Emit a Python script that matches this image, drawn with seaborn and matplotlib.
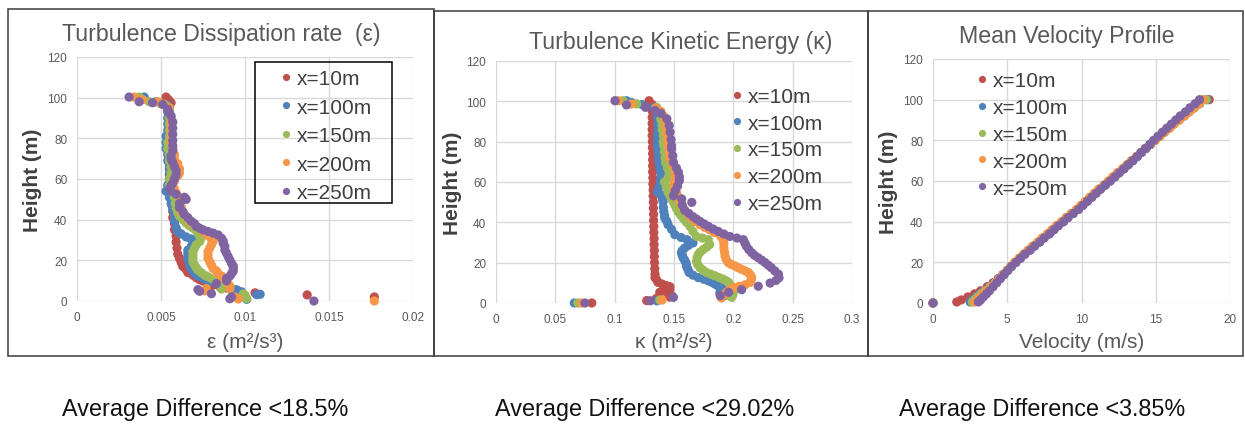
import pandas as pd
import matplotlib
matplotlib.use("Agg")
import matplotlib.pyplot as plt
import seaborn as sns
from matplotlib.patches import Rectangle

series_names = ["x=10m", "x=100m", "x=150m", "x=200m", "x=250m"]
colors = ["#C0504D", "#4F81BD", "#9BBB59", "#F79646", "#8064A2"]

# ---- Turbulence dissipation rate (eps, m2/s3) vs height (m)
eps10_h = [100.3, 99, 97.5, 96, 94, 92, 89, 86, 83, 80, 77, 74, 71, 68, 65, 62, 59, 56, 53, 50,
           47, 44, 41, 38, 35, 32, 29, 26, 23, 21, 19, 17, 15.5, 14, 12.7, 11.5, 10.5, 9.8, 8.8, 7.8,
           7, 6.4, 5.8, 5.3, 4.5, 4, 3, 2]
eps10_v = [0.0053, 0.00545, 0.0056, 0.0055, 0.0054, 0.00545, 0.0055, 0.0055, 0.0055, 0.0054,
           0.0054, 0.0054, 0.0055, 0.0055, 0.0055, 0.0055, 0.0055, 0.0055, 0.0056, 0.0056,
           0.00565, 0.0057, 0.0057, 0.0058, 0.0058, 0.0059, 0.0059, 0.00595, 0.0060, 0.0061,
           0.0062, 0.0063, 0.0065, 0.0066, 0.0069, 0.0071, 0.0073, 0.0075, 0.0078, 0.0081,
           0.0085, 0.0089, 0.0092, 0.0094, 0.0097, 0.0106, 0.0137, 0.0177]

eps100_h = [100.3, 98, 96.5, 95, 93, 90, 87, 84, 81, 78, 75, 72, 69, 66, 63, 60, 57, 54, 51, 48,
            45, 42, 39, 36, 34, 33, 31.5, 30.5, 29.3, 28, 26.8, 25, 23.5, 22, 20.5, 19, 17.5, 16,
            14.7, 13.5, 12.3, 11.2, 10.2, 9.5, 8.9, 8.2, 7.6, 6.8, 6.1, 5.5, 4.5, 3.3, 3.1, 0.8]
eps100_v = [0.0040, 0.0047, 0.0054, 0.0055, 0.0054, 0.0054, 0.0054, 0.0054, 0.0053, 0.0053,
            0.0053, 0.0054, 0.0054, 0.0055, 0.0055, 0.0055, 0.0054, 0.0053, 0.0055, 0.0056,
            0.0057, 0.0058, 0.0058, 0.0059, 0.0060, 0.0062, 0.0065, 0.0068, 0.0072, 0.0070,
            0.0068, 0.0066, 0.0066, 0.0066, 0.0066, 0.0067, 0.0067, 0.0068, 0.0069, 0.0070,
            0.0072, 0.0075, 0.0077, 0.0080, 0.0083, 0.0086, 0.0088, 0.0090, 0.0092, 0.0095,
            0.0098, 0.0109, 0.0107, 0.0101]

eps150_h = [100.3, 98, 97, 95.5, 93, 90, 87, 84, 81, 78, 75, 72, 69, 66, 63, 60, 57, 54, 51, 48,
            45.8, 43.5, 41.7, 40, 38.3, 37, 35.9, 34.6, 33.4, 32, 30.9, 29.2, 27.6, 26, 24.3,
            22.6, 21, 19.3, 17.7, 16.4, 15.2, 13.9, 12.7, 11.9, 11.1, 10.2, 9.4, 8.2, 7, 5.9,
            3.5, 2.8, 1.2]
eps150_v = [0.0037, 0.0043, 0.0050, 0.0054, 0.0055, 0.0055, 0.0055, 0.0055, 0.0055, 0.0054,
            0.0054, 0.0055, 0.0055, 0.0056, 0.0056, 0.0055, 0.0055, 0.0056, 0.0058, 0.00585,
            0.0059, 0.0060, 0.0061, 0.0063, 0.0065, 0.0067, 0.0069, 0.0071, 0.0072, 0.0073,
            0.0074, 0.0073, 0.0071, 0.0070, 0.0069, 0.0069, 0.0069, 0.0069, 0.0070, 0.0071,
            0.0072, 0.0074, 0.0076, 0.0078, 0.0080, 0.0082, 0.0084, 0.0085, 0.0086, 0.0086,
            0.0099, 0.0100, 0.0101]

eps200_h = [100.3, 99, 98, 96.8, 95, 93, 90, 87, 84, 81, 78, 75, 72, 69.8, 67.5, 65, 63, 61.6,
            59, 56.7, 55, 53.2, 51, 49, 46.5, 44, 41.5, 39.2, 38, 36.7, 35.5, 34.2, 33, 31.7,
            30.5, 29.3, 27.6, 26, 24.3, 22.6, 21, 19.3, 17.7, 16, 14.8, 13.5, 12.3, 11.1, 9.8,
            8.6, 7.3, 6.1, 6.1, 5, 2, 1, 0]
eps200_v = [0.0034, 0.0039, 0.0048, 0.0052, 0.0055, 0.0055, 0.0056, 0.0056, 0.0056, 0.0056,
            0.0056, 0.0057, 0.0058, 0.0058, 0.0060, 0.0061, 0.0061, 0.0060, 0.0058, 0.0057,
            0.0058, 0.0059, 0.0061, 0.0062, 0.0062, 0.0062, 0.0065, 0.0067, 0.0069, 0.0071,
            0.0073, 0.0075, 0.0077, 0.0079, 0.0080, 0.0081, 0.0080, 0.0079, 0.0078, 0.0078,
            0.0078, 0.0079, 0.0080, 0.0081, 0.0083, 0.0084, 0.0086, 0.0087, 0.0089, 0.0090,
            0.0091, 0.0091, 0.0077, 0.0076, 0.0094, 0.0096, 0.0177]

eps250_h = [100.3, 98, 97.5, 96.7, 94.3, 92.5, 91, 88, 85, 82, 79, 76.3, 74, 71.4, 69.8, 68.2,
            66, 64.1, 62, 60, 58, 56.7, 55, 54, 52.5, 51, 50, 48, 46, 44, 42.5, 41, 39.2, 38,
            36.7, 35.8, 35, 34.2, 33.4, 32.5, 30.9, 29.5, 28.4, 26.8, 25.1, 23.5, 21.8, 20.2,
            18.5, 17.2, 16, 14.7, 13.5, 12.3, 11.1, 9.9, 8.6, 5.6, 4.8, 3.6, 2, 1.1, 0]
eps250_v = [0.0031, 0.0037, 0.0045, 0.0051, 0.0054, 0.0055, 0.0056, 0.0057, 0.0057, 0.0057,
            0.0057, 0.0057, 0.0057, 0.0056, 0.0056, 0.0057, 0.0058, 0.0059, 0.0059, 0.0058,
            0.0057, 0.0056, 0.0055, 0.0056, 0.0059, 0.0064, 0.0065, 0.0061, 0.0061, 0.0063,
            0.0064, 0.0066, 0.0068, 0.0070, 0.0071, 0.0073, 0.0075, 0.0078, 0.0081, 0.0084,
            0.0086, 0.0087, 0.0087, 0.0088, 0.0088, 0.0089, 0.0090, 0.0091, 0.0092, 0.0093,
            0.0093, 0.0093, 0.0092, 0.0091, 0.0089, 0.0089, 0.0083, 0.0072, 0.0073, 0.0080,
            0.0092, 0.0091, 0.0141]

# ---- Turbulence kinetic energy (k, m2/s2) vs height (m)
tke10_h = [100.3, 98.4, 97, 95, 92, 89, 86, 83, 80, 77, 74, 71, 68, 65, 62, 59, 56, 53, 50, 47,
           44, 41, 38, 35, 32, 29, 26, 23, 20, 17, 14.3, 12.6, 11.4, 10.2, 9.4, 8.6, 8.1, 6.9, 6,
           5.3, 4.5, 3.7, 2.9, 2.2, 1.2, 0]
tke10_v = [0.129, 0.1316, 0.133, 0.1318, 0.1316, 0.1316, 0.1316, 0.1316, 0.1318, 0.1318, 0.132,
           0.132, 0.132, 0.132, 0.1322, 0.1322, 0.1324, 0.1324, 0.1326, 0.1326, 0.1328, 0.1328,
           0.133, 0.133, 0.1332, 0.1332, 0.1334, 0.1334, 0.1336, 0.1338, 0.134, 0.134, 0.1355,
           0.1366, 0.140, 0.1437, 0.1465, 0.1465, 0.141, 0.138, 0.1453, 0.148, 0.1465, 0.135,
           0.127, 0.0807]

tke100_h = [100.3, 99.5, 98.4, 97, 95, 92, 89, 86, 83, 80, 77.9, 75, 72, 69.7, 67, 64.7, 62,
            59.8, 57, 54.9, 53.5, 52, 50.2, 47.5, 45.3, 43.5, 42, 40.5, 38.8, 36.5, 33.9, 32.5,
            31.4, 29.8, 28.5, 27.3, 26, 24.9, 23.6, 22.4, 21.2, 20, 18.7, 17.5, 16.3, 15.1, 13.8,
            12.6, 11.8, 11, 10.2, 9.4, 8.5, 7.7, 6.5, 5.3, 4.9, 3.7, 1.1, 0]
tke100_v = [0.110, 0.114, 0.123, 0.133, 0.136, 0.136, 0.1364, 0.1364, 0.136, 0.136, 0.136,
            0.1365, 0.137, 0.1373, 0.138, 0.139, 0.139, 0.1385, 0.137, 0.136, 0.1394, 0.140,
            0.1408, 0.141, 0.1414, 0.142, 0.1423, 0.144, 0.145, 0.148, 0.1507, 0.156, 0.161,
            0.166, 0.162, 0.159, 0.157, 0.1563, 0.157, 0.1577, 0.159, 0.160, 0.1605, 0.161,
            0.162, 0.1628, 0.166, 0.1704, 0.175, 0.1789, 0.182, 0.1845, 0.187, 0.190, 0.1905,
            0.1915, 0.1886, 0.193, 0.1355, 0.066]

tke150_h = [100.3, 98.7, 97, 94.3, 91, 88, 86, 83, 80, 77.9, 75, 72, 69.7, 67, 64.7, 62, 60,
            57.5, 55, 53.4, 51.8, 50.2, 48.6, 47, 45.3, 43.6, 42, 40, 38, 35.5, 33, 32.2, 31.4,
            29, 27.7, 26.5, 25.2, 24, 22.4, 20.8, 19.1, 17.5, 16.3, 15.1, 14.3, 13.5, 12.6, 11.8,
            11, 10.2, 9, 7.7, 6.5, 5.3, 4, 2.8, 1.5, 0]
tke150_v = [0.107, 0.1186, 0.1355, 0.1387, 0.139, 0.140, 0.140, 0.141, 0.141, 0.1415, 0.142,
            0.1425, 0.143, 0.1445, 0.1458, 0.145, 0.142, 0.1435, 0.145, 0.1465, 0.148, 0.1493,
            0.1507, 0.152, 0.1535, 0.1555, 0.1577, 0.1605, 0.1634, 0.166, 0.169, 0.174, 0.1789,
            0.180, 0.1775, 0.1747, 0.172, 0.1704, 0.1695, 0.169, 0.170, 0.1718, 0.1745, 0.1775,
            0.181, 0.1845, 0.188, 0.1915, 0.194, 0.196, 0.1975, 0.1986, 0.1995, 0.200, 0.1995,
            0.1986, 0.138, 0.069]

tke200_h = [100.3, 98.7, 96.7, 95, 92.6, 90, 87, 84, 81, 78, 75, 72.5, 71.3, 68.5, 66.4, 64,
            61.5, 59, 56.5, 55, 53, 51.6, 50, 48, 46, 44, 42, 40.4, 38.8, 37.5, 36.3, 35, 33.9,
            32.6, 31.4, 29.5, 27.3, 25.3, 23.3, 21.6, 20, 19.2, 18.4, 17.5, 16.7, 15.9, 15.1,
            13.8, 12.6, 11.4, 10.2, 9, 8.3, 7.7, 6.5, 5.3, 4, 2.5, 1.5, 0]
tke200_v = [0.103, 0.1144, 0.1345, 0.139, 0.1415, 0.1425, 0.1435, 0.1438, 0.1445, 0.145, 0.1458,
            0.1465, 0.147, 0.149, 0.151, 0.151, 0.151, 0.150, 0.150, 0.152, 0.153, 0.154, 0.155,
            0.157, 0.159, 0.162, 0.1648, 0.168, 0.172, 0.176, 0.180, 0.184, 0.1887, 0.190,
            0.1915, 0.192, 0.192, 0.1925, 0.193, 0.194, 0.1958, 0.198, 0.2014, 0.204, 0.207,
            0.210, 0.2127, 0.2145, 0.2155, 0.215, 0.214, 0.2099, 0.205, 0.200, 0.197, 0.1944,
            0.192, 0.190, 0.140, 0.072]

tke250_h = [100.3, 98.2, 97, 95.5, 94, 91.3, 88, 84.7, 81, 78, 76.4, 73, 69.8, 67, 64.8, 62.5,
            60.7, 58, 55.7, 53.2, 51.6, 49.9, 48.5, 46, 44.4, 42.8, 41.6, 40.4, 39.2, 38, 36.7,
            35.5, 34.2, 33, 32.2, 31.4, 29.8, 28.2, 26.5, 24.9, 23.6, 22.4, 21.2, 20, 18.7, 17.5,
            15.9, 14.3, 12.5, 11.2, 9.9, 8.3, 6.6, 5.3, 3.6, 2.8, 1.1, 0]
tke250_v = [0.1003, 0.110, 0.126, 0.134, 0.139, 0.144, 0.146, 0.1467, 0.1475, 0.148, 0.148,
            0.149, 0.1495, 0.152, 0.1537, 0.1545, 0.1545, 0.153, 0.151, 0.1495, 0.1565, 0.165,
            0.157, 0.159, 0.1625, 0.166, 0.169, 0.172, 0.1755, 0.179, 0.183, 0.1873, 0.192,
            0.197, 0.203, 0.2084, 0.2097, 0.211, 0.213, 0.2155, 0.218, 0.221, 0.224, 0.2268,
            0.2295, 0.232, 0.235, 0.238, 0.2385, 0.236, 0.231, 0.221, 0.207, 0.196, 0.189,
            0.1495, 0.130, 0.075]

# ---- Mean velocity (m/s), all series share the same heights
vel_h = [0, 0.5, 1.5, 3, 4.5, 6, 8, 10, 12, 14, 16, 18, 20, 22, 24, 26, 28, 30, 32, 34, 36, 38,
         40, 42, 44, 46, 48, 50, 52, 54, 56, 58, 60, 62, 64, 66, 68, 70, 72, 74, 76, 78, 80, 82,
         84, 86, 88, 90, 92, 94, 96, 98, 100]
vel10 = [0, 1.6, 1.9, 2.35, 2.8, 3.2, 3.65, 4.05, 4.4, 4.7, 5.0, 5.25, 5.55, 5.85, 6.15, 6.5,
         6.8, 7.15, 7.45, 7.8, 8.1, 8.4, 8.75, 9.05, 9.4, 9.75, 10.05, 10.35, 10.65, 10.95, 11.25,
         11.6, 11.9, 12.2, 12.5, 12.85, 13.15, 13.45, 13.75, 14.05, 14.35, 14.65, 14.95, 15.25,
         15.55, 15.85, 16.2, 16.5, 16.85, 17.2, 17.55, 17.95, 18.6]
vel100 = [0, 2.5, 2.65, 2.9, 3.15, 3.45, 3.8, 4.15, 4.45, 4.75, 5.0, 5.25, 5.55, 5.85, 6.15, 6.5,
          6.8, 7.15, 7.45, 7.8, 8.1, 8.4, 8.75, 9.05, 9.4, 9.75, 10.05, 10.35, 10.65, 10.95,
          11.25, 11.6, 11.9, 12.2, 12.5, 12.85, 13.15, 13.45, 13.75, 14.05, 14.35, 14.65, 14.95,
          15.25, 15.55, 15.9, 16.2, 16.55, 16.9, 17.25, 17.6, 17.95, 18.45]
vel150 = [0, 2.65, 2.8, 3.0, 3.25, 3.5, 3.85, 4.2, 4.5, 4.75, 5.0, 5.25, 5.5, 5.8, 6.1, 6.45,
          6.75, 7.1, 7.4, 7.75, 8.05, 8.35, 8.7, 9.0, 9.35, 9.7, 10.0, 10.3, 10.6, 10.9, 11.2,
          11.55, 11.85, 12.15, 12.45, 12.8, 13.1, 13.4, 13.7, 14.0, 14.3, 14.6, 14.95, 15.25,
          15.55, 15.9, 16.2, 16.55, 16.9, 17.25, 17.6, 17.95, 18.4]
vel200 = [0, 2.8, 2.95, 3.15, 3.35, 3.6, 3.9, 4.2, 4.5, 4.75, 5.0, 5.25, 5.5, 5.8, 6.1, 6.4,
          6.7, 7.05, 7.35, 7.7, 8.0, 8.3, 8.65, 8.95, 9.3, 9.65, 9.95, 10.25, 10.55, 10.85, 11.15,
          11.5, 11.8, 12.1, 12.4, 12.75, 13.05, 13.35, 13.7, 14.0, 14.3, 14.65, 14.95, 15.3,
          15.6, 15.95, 16.25, 16.6, 16.95, 17.25, 17.6, 17.9, 18.2]
vel250 = [0, 3.05, 3.2, 3.4, 3.6, 3.8, 4.05, 4.3, 4.55, 4.8, 5.05, 5.3, 5.6, 5.9, 6.2, 6.55,
          6.85, 7.2, 7.5, 7.85, 8.15, 8.45, 8.8, 9.1, 9.45, 9.8, 10.1, 10.4, 10.7, 11.0, 11.3,
          11.6, 11.95, 12.25, 12.55, 12.85, 13.15, 13.45, 13.75, 14.0, 14.3, 14.6, 14.85, 15.15,
          15.45, 15.75, 16.05, 16.35, 16.65, 17.0, 17.3, 17.65, 17.95]

differences = ["Average Difference <18.5%", "Average Difference <29.02%",
               "Average Difference <3.85%"]


def long_table(heights, values):
    parts = []
    for name, h, v in zip(series_names, heights, values):
        parts.append(pd.DataFrame({"series": name, "height": h, "value": v}))
    return pd.concat(parts, ignore_index=True)


eps_df = long_table([eps10_h, eps100_h, eps150_h, eps200_h, eps250_h],
                    [eps10_v, eps100_v, eps150_v, eps200_v, eps250_v])
tke_df = long_table([tke10_h, tke100_h, tke150_h, tke200_h, tke250_h],
                    [tke10_v, tke100_v, tke150_v, tke200_v, tke250_v])
vel_df = long_table([vel_h] * 5, [vel10, vel100, vel150, vel200, vel250])

sns.set_theme(style="white")
plt.rcParams["font.family"] = ["Liberation Sans", "DejaVu Sans"]

W, H = 1245, 427
fig = plt.figure(figsize=(W / 100, H / 100), dpi=100)
fig.patch.set_facecolor("white")


def box(l, t, r, b):
    return [l / W, 1 - b / H, (r - l) / W, (b - t) / H]


ax1 = fig.add_axes(box(77, 58, 413, 302))
ax2 = fig.add_axes(box(496, 62, 852, 304))
ax3 = fig.add_axes(box(933, 60, 1230, 304))

gray = "#595959"
dark = "#404040"

panels = [
    (ax1, eps_df, [0, 0.005, 0.01, 0.015, 0.02], ["0", "0.005", "0.01", "0.015", "0.02"],
     "\u03b5 (m\u00b2/s\u00b3)", 33, 343),
    (ax2, tke_df, [0, 0.05, 0.1, 0.15, 0.2, 0.25, 0.3],
     ["0", "0.05", "0.1", "0.15", "0.2", "0.25", "0.3"], "\u03ba (m\u00b2/s\u00b2)", 453, 342),
    (ax3, vel_df, [0, 5, 10, 15, 20], ["0", "5", "10", "15", "20"], "Velocity (m/s)", 888, 342),
]

for ax, df, xt, xtl, xlab, ylab_x, xlab_y in panels:
    sns.scatterplot(data=df, x="value", y="height", hue="series", palette=colors,
                    s=44, linewidth=0, edgecolor="none", ax=ax, clip_on=False, legend=True)
    ax.set_xlim(xt[0], xt[-1])
    ax.set_ylim(0, 120)
    ax.set_xticks(xt)
    ax.set_xticklabels(xtl)
    ax.set_yticks([0, 20, 40, 60, 80, 100, 120])
    ax.grid(True, color="#d9d9d9", linewidth=1.0)
    ax.set_axisbelow(True)
    for sp in ax.spines.values():
        sp.set_visible(False)
    ax.tick_params(length=0, labelsize=8.5, labelcolor=gray, pad=7)
    pos = ax.get_position()
    ax.set_xlabel(xlab, fontsize=15, color=gray, va="center")
    ax.xaxis.set_label_coords(0.5, -(xlab_y - (1 - pos.y0) * H) / (pos.height * H))
    ax.set_ylabel("Height (m)", fontsize=15, fontweight="bold", color=dark, va="center")
    ax.yaxis.set_label_coords((ylab_x - pos.x0 * W) / (pos.width * W), 0.5)

# legends
legend_spots = [(ax1, 278, 70, 0.46), (ax2, 729, 88, 0.37), (ax3, 974, 72, 0.38)]
for ax, lx, ly, spacing in legend_spots:
    sns.move_legend(ax, "upper left", bbox_to_anchor=(lx / W, 1 - ly / H),
                    bbox_transform=fig.transFigure, title=None, frameon=False,
                    fontsize=15, labelcolor=dark, borderaxespad=0, borderpad=0,
                    handlelength=0.8, handletextpad=0.1, labelspacing=spacing,
                    markerscale=0.78)

fig.add_artist(Rectangle((255 / W, 1 - 204 / H), 137 / W, 141 / H, transform=fig.transFigure,
                         fill=False, edgecolor="black", linewidth=1.1))

# titles
fig.text(221 / W, 1 - 35 / H, "Turbulence Dissipation rate  (\u03b5)", ha="center", va="center",
         fontsize=16.7, color=gray)
fig.text(681 / W, 1 - 42 / H, "Turbulence Kinetic Energy (\u03ba)", ha="center", va="center",
         fontsize=16.7, color=gray)
fig.text(1067 / W, 1 - 37 / H, "Mean Velocity Profile", ha="center", va="center",
         fontsize=16.7, color=gray)

# panel frames
for l, t, r, b in [(8, 10, 434, 357), (434, 12, 868, 357), (868, 12, 1243, 357)]:
    fig.add_artist(Rectangle((l / W, 1 - b / H), (r - l) / W, (b - t) / H,
                             transform=fig.transFigure, fill=False, edgecolor="#3a3a3a",
                             linewidth=1.1))

for xc, txt in zip([205, 645, 1042], differences):
    fig.text(xc / W, 1 - 410 / H, txt, ha="center", va="center", fontsize=16.8, color="#111111")

fig.savefig("out.png", dpi=100, facecolor="white")
